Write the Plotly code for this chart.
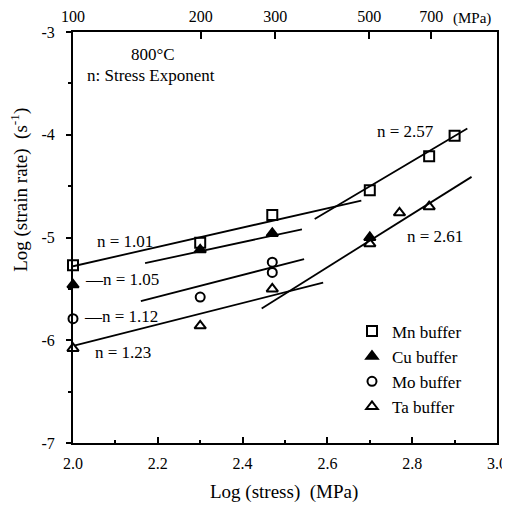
import plotly.graph_objects as go

# ---- data ----
mn_x = [2.0, 2.30, 2.47, 2.70, 2.84, 2.90]
mn_y = [-5.27, -5.05, -4.78, -4.54, -4.21, -4.01]
cu_x = [2.0, 2.30, 2.47, 2.70]
cu_y = [-5.46, -5.12, -4.96, -5.00]
mo_x = [2.0, 2.30, 2.47, 2.47]
mo_y = [-5.79, -5.58, -5.24, -5.34]
ta_x = [2.0, 2.30, 2.47, 2.70, 2.77, 2.84]
ta_y = [-6.08, -5.86, -5.50, -5.06, -4.76, -4.70]

# fitted line segments
fit_mn_low_x = [2.0, 2.68];   fit_mn_low_y = [-5.28, -4.64]
fit_mn_high_x = [2.57, 2.93]; fit_mn_high_y = [-4.82, -3.94]
fit_cu_x = [2.17, 2.54];      fit_cu_y = [-5.25, -4.92]
fit_mo_x = [2.16, 2.545];     fit_mo_y = [-5.62, -5.21]
fit_ta_low_x = [2.005, 2.59]; fit_ta_low_y = [-6.05, -5.44]
fit_ta_high_x = [2.445, 2.94]; fit_ta_high_y = [-5.69, -4.41]

x_ticks = [2.0, 2.2, 2.4, 2.6, 2.8, 3.0]
x_ticklabels = ["2.0", "2.2", "2.4", "2.6", "2.8", "3.0"]
y_ticks = [-3, -4, -5, -6, -7]
top_ticks = [100, 200, 300, 500, 700]

FONT = "Liberation Serif"

fig = go.Figure()

fits = [
    (fit_mn_low_x, fit_mn_low_y), (fit_mn_high_x, fit_mn_high_y),
    (fit_cu_x, fit_cu_y), (fit_mo_x, fit_mo_y),
    (fit_ta_low_x, fit_ta_low_y), (fit_ta_high_x, fit_ta_high_y),
]
for fx, fy in fits:
    fig.add_trace(go.Scatter(x=fx, y=fy, mode="lines",
                             line=dict(color="black", width=1.8),
                             showlegend=False, hoverinfo="skip"))

series = [
    ("Mn buffer", mn_x, mn_y, "square-open", 10),
    ("Cu buffer", cu_x, cu_y, "triangle-up", 10),
    ("Mo buffer", mo_x, mo_y, "circle-open", 9),
    ("Ta buffer", ta_x, ta_y, "triangle-up-open", 10),
]
for name, sx, sy, sym, sz in series:
    fig.add_trace(go.Scatter(x=sx, y=sy, mode="markers", name=name,
                             legendgroup=name, cliponaxis=False,
                             marker=dict(symbol=sym, size=sz, color="black",
                                         line=dict(color="black", width=2))))

# top axis (stress in MPa, log scale)
fig.add_trace(go.Scatter(x=[100, 1000], y=[-8, -8], xaxis="x2", mode="lines",
                         showlegend=False, hoverinfo="skip"))

ann = [
    dict(x=2.122, y=-5.04, text="n = 1.01", xanchor="center", size=17),
    dict(x=2.023, y=-5.41, text="—n = 1.05", xanchor="left", size=17),
    dict(x=2.021, y=-5.77, text="—n = 1.12", xanchor="left", size=17),
    dict(x=2.117, y=-6.12, text="n = 1.23", xanchor="center", size=17),
    dict(x=2.784, y=-3.97, text="n = 2.57", xanchor="center", size=17),
    dict(x=2.854, y=-4.99, text="n = 2.61", xanchor="center", size=17),
    dict(x=2.188, y=-3.215, text="800°C", xanchor="center", size=17),
    dict(x=2.185, y=-3.42, text="n: Stress Exponent", xanchor="center", size=17),
]
annotations = []
for a in ann:
    sz = a.pop("size")
    annotations.append(dict(xref="x", yref="y", showarrow=False, yanchor="middle",
                            font=dict(family=FONT, size=sz, color="black"), **a))
annotations += [
    dict(xref="paper", yref="paper", x=0.941, y=1.058, text="(MPa)", showarrow=False,
         xanchor="center", yanchor="top", font=dict(family=FONT, size=15, color="black")),
    dict(xref="paper", yref="paper", x=0.498, y=-0.119, text="Log (stress)  (MPa)", showarrow=False,
         xanchor="center", yanchor="middle", font=dict(family=FONT, size=19, color="black")),
    dict(xref="paper", yref="paper", x=-0.125, y=0.616, text="Log (strain rate)  (s<sup>-1</sup>)",
         showarrow=False, textangle=-90, xanchor="center", yanchor="middle",
         font=dict(family=FONT, size=19, color="black")),
]

# the page body has an 8px margin, so the figure is sized/offset to compensate
fig.update_layout(
    width=502, height=502,
    margin=dict(l=65, r=13, t=24, b=67, autoexpand=False),
    paper_bgcolor="white", plot_bgcolor="white",
    font=dict(family=FONT, size=15, color="black"),
    xaxis=dict(range=[2.0, 3.0], tickvals=x_ticks, ticktext=x_ticklabels,
               ticks="inside", ticklen=6, tickwidth=2, tickcolor="black",
               minor=dict(dtick=0.1, ticks="inside", ticklen=3, tickwidth=1.5, tickcolor="black"),
               showline=True, linecolor="black", linewidth=2, mirror=False,
               showgrid=False, zeroline=False, ticklabelstandoff=5, automargin=False,
               tickfont=dict(family=FONT, size=16)),
    xaxis2=dict(type="log", range=[2, 3], overlaying="x", side="top",
                tickvals=top_ticks, ticktext=[str(t) for t in top_ticks],
                ticks="inside", ticklen=7, tickwidth=2, tickcolor="black",
                showline=True, linecolor="black", linewidth=2,
                showgrid=False, zeroline=False, ticklabelstandoff=2, automargin=False,
                tickfont=dict(family=FONT, size=16)),
    yaxis=dict(range=[-7, -3], tickvals=y_ticks, ticktext=[str(t) for t in y_ticks],
               ticks="outside", ticklen=5, tickwidth=2, tickcolor="black",
               minor=dict(dtick=0.5, ticks="outside", ticklen=3, tickwidth=1.5, tickcolor="black"),
               showline=True, linecolor="black", linewidth=2, mirror=True,
               showgrid=False, zeroline=False, ticklabelstandoff=8, automargin=False,
               tickfont=dict(family=FONT, size=16)),
    legend=dict(x=0.658, y=0.315, xanchor="left", yanchor="top",
                traceorder="grouped", tracegroupgap=0,
                bgcolor="rgba(0,0,0,0)", font=dict(family=FONT, size=17)),
    annotations=annotations,
)

fig.write_html("out.html")
